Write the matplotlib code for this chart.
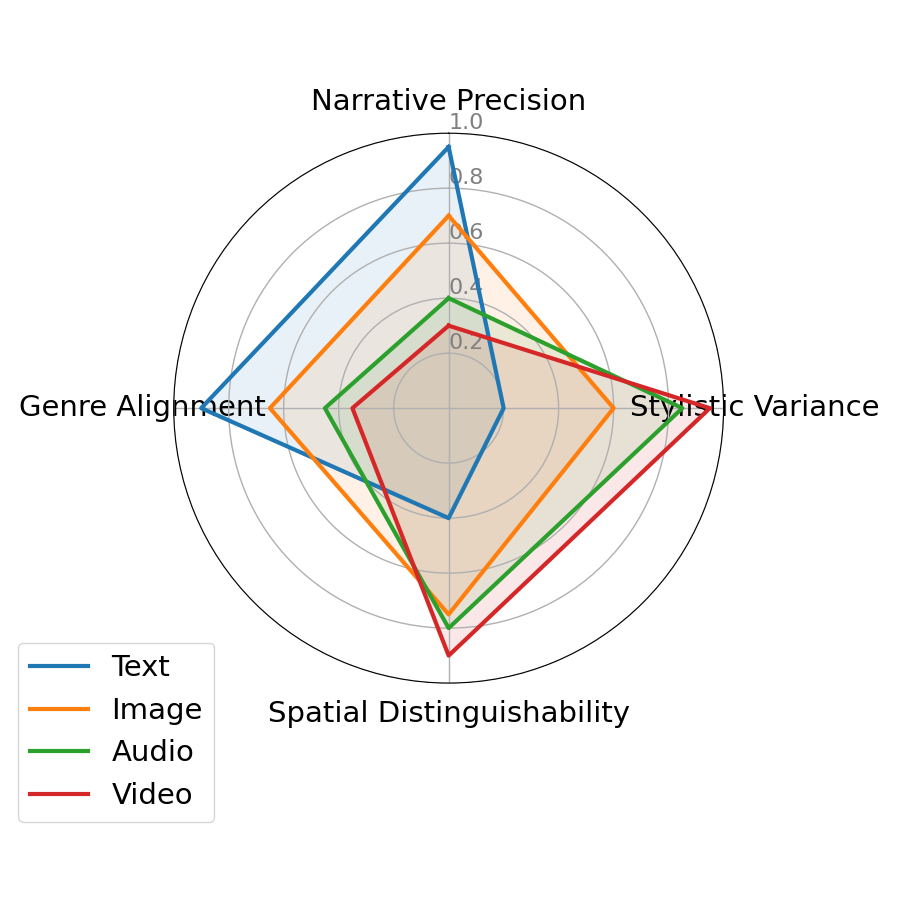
import numpy as np
import matplotlib.pyplot as plt

categories = ['Narrative Precision', 'Stylistic Variance', 'Spatial Distinguishability', 'Genre Alignment']
text_vals = [0.95, 0.2, 0.4, 0.9]
image_vals = [0.7, 0.6, 0.75, 0.65]
audio_vals = [0.4, 0.85, 0.8, 0.45]
video_vals = [0.3, 0.95, 0.9, 0.35]

series = {'Text': text_vals, 'Image': image_vals, 'Audio': audio_vals, 'Video': video_vals}
colors = ['#1f77b4', '#ff7f0e', '#2ca02c', '#d62728']

angles = np.linspace(0, 2 * np.pi, len(categories), endpoint=False).tolist()
angles += angles[:1]

fig = plt.figure(figsize=(9, 9), dpi=100)
ax = fig.add_axes([0.193, 0.241, 0.611, 0.611], polar=True)
ax.set_theta_offset(np.pi / 2)
ax.set_theta_direction(-1)

for (name, vals), c in zip(series.items(), colors):
    v = vals + vals[:1]
    ax.plot(angles, v, color=c, linewidth=3, label=name)
    ax.fill(angles, v, color=c, alpha=0.1)

ax.set_xticks(angles[:-1])
ax.set_xticklabels(categories, fontsize=21)
ax.tick_params(axis='x', pad=12)
ax.set_ylim(0, 1)
ax.set_yticks([0.2, 0.4, 0.6, 0.8, 1.0])
ax.set_yticklabels(['0.2', '0.4', '0.6', '0.8', '1.0'], color='grey', fontsize=16)
ax.set_rlabel_position(0)
ax.grid(color='#b0b0b0', linewidth=1)

fig.legend(loc='lower left', bbox_to_anchor=(0.02, 0.087), borderaxespad=0, fontsize=21)

fig.savefig('out.png', dpi=100)
